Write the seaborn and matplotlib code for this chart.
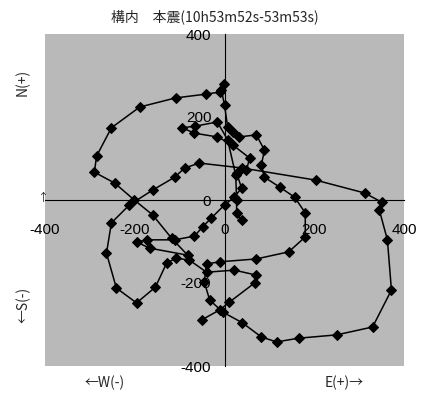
import matplotlib
matplotlib.use("Agg")
import matplotlib.pyplot as plt
import numpy as np
import pandas as pd
import seaborn as sns

# Particle-motion orbit: E-W (x) and N-S (y) displacement
ew = [-51, -11, 11, 67, 71, 22, -40, -78, -107, -129, -154, -196, -241, -263, -252, -212,
      -160, -111, -89, -56, 40, 203, 312, 350, 345, 363, 372, 330, 250, 165, 116, 82,
      40, -4, -33, -45, -40, -11, 71, 143, 180, 180, 156, 123, 89, 82, 89, 71,
      33, 18, 7, 0, -7, -2, -11, -42, -109, -189, -252, -285, -290, -245, -201, -160,
      -118, -82, -167, -196, -172, -111, -67, -49, -29, 0, 22, 38, 27, 49, 56, 18,
      -16, -67, -94, -65, -16, 7, 25, 27, 27, 38]
ns = [-289, -265, -246, -200, -181, -169, -174, -145, -140, -152, -210, -248, -212, -128, -55, -12,
      24, 55, 77, 89, 77, 48, 17, -5, -24, -96, -217, -306, -325, -333, -342, -330,
      -296, -270, -241, -198, -154, -149, -142, -125, -89, -31, 7, 31, 55, 84, 120, 157,
      152, 164, 176, 229, 265, 280, 260, 255, 246, 224, 174, 106, 67, 41, 0, -36,
      -92, -133, -116, -101, -96, -96, -87, -65, -43, -12, 7, 29, 65, 72, 101, 133,
      152, 161, 174, 178, 188, 145, 60, 0, -31, -48]

ticks = [-400, -200, 0, 200, 400]
title = "構内\u3000本震(10h53m52s-53m53s)"

sns.set_style("white")
plt.rcParams["font.family"] = ["Liberation Sans", "DejaVu Sans"]

W, H = 421, 394
fig = plt.figure(figsize=(W / 100, H / 100), dpi=100)
ax = fig.add_axes([45 / W, 1 - 366 / H, 359 / W, 332 / H])
ax.set_facecolor("#b9b9b9")

df = pd.DataFrame({"step": range(len(ew)), "ew": ew, "ns": ns})
sns.lineplot(data=df, x="ew", y="ns", sort=False, estimator=None, color="black",
             linewidth=1.1, marker="D", markersize=4.8, markeredgecolor="black",
             markerfacecolor="black", ax=ax)

ax.set_xlim(-400, 400)
ax.set_ylim(-400, 400)
ax.set_xlabel("")
ax.set_ylabel("")
ax.spines["left"].set_position("zero")
ax.spines["bottom"].set_position("zero")
ax.spines["top"].set_visible(False)
ax.spines["right"].set_visible(False)
for s in ("left", "bottom"):
    ax.spines[s].set_linewidth(0.8)
    ax.spines[s].set_color("black")
ax.set_xticks(ticks)
ax.set_yticks(ticks)
ax.set_xticklabels([str(t) for t in ticks])
ax.set_yticklabels([str(t) for t in ticks])
ax.tick_params(axis="both", direction="inout", length=5, width=0.8, labelsize=11, colors="black")
ax.tick_params(axis="x", pad=14)
ax.tick_params(axis="y", pad=7)

jp = ["Noto Sans CJK JP", "DejaVu Sans"]
def px(x, y):
    return x / W, 1 - y / H

fig.text(*px(215, 17), title, family=jp, fontsize=10, ha="center", va="center")
fig.text(*px(23, 82), "N(+)", family=jp, fontsize=10, rotation=90, ha="center", va="center")
fig.text(*px(23, 305), "←S(-)", family=jp, fontsize=10, rotation=90, ha="center", va="center")
fig.text(*px(105, 383), "←W(-)", family=jp, fontsize=10, ha="center", va="center")
fig.text(*px(344, 383), "E(+)→", family=jp, fontsize=10, ha="center", va="center")
fig.text(*px(43, 198), "↑", family=jp, fontsize=8, ha="center", va="center")

fig.savefig("out.png", dpi=100)
